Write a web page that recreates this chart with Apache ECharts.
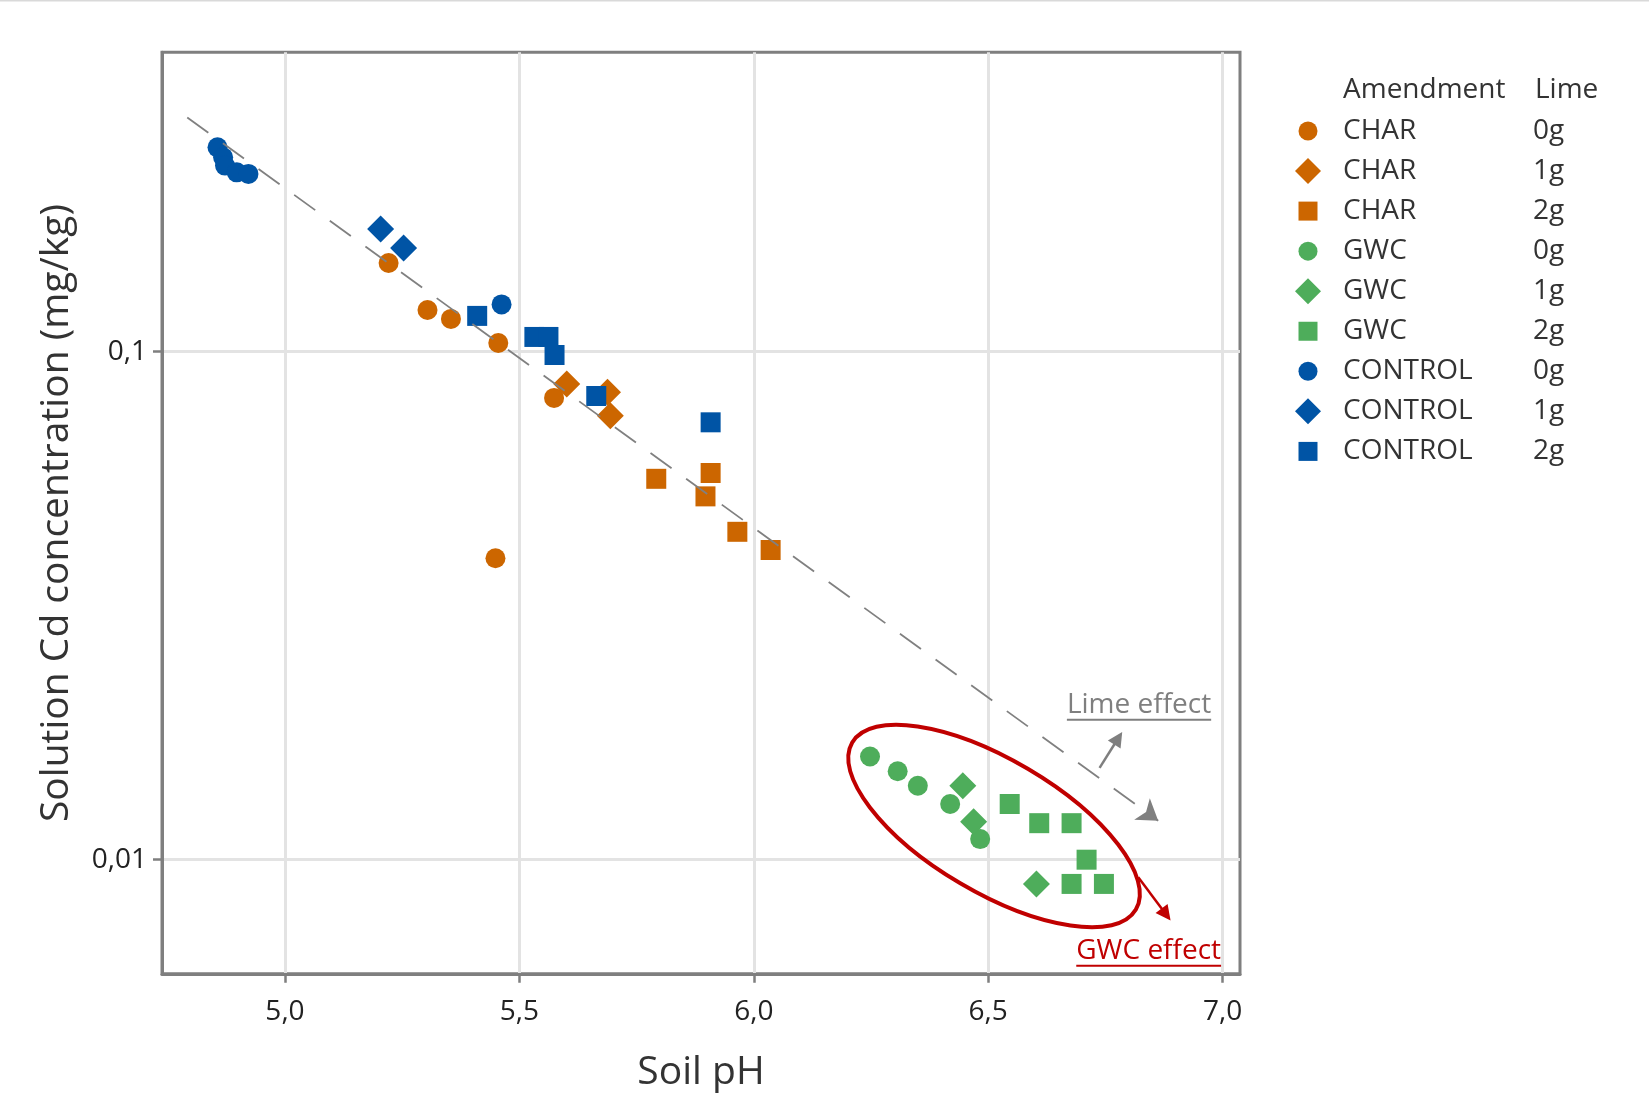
<!DOCTYPE html>
<html>
<head>
<meta charset="utf-8">
<script src="https://cdn.jsdelivr.net/npm/echarts@6/dist/echarts.min.js"></script>
<style>
  html, body { margin: 0; padding: 0; background: #ffffff; }
  #chart { width: 1649px; height: 1116px; }
</style>
</head>
<body>
<div id="chart"></div>
<script>
// Solution Cd concentration (mg/kg, log scale) against soil pH,
// by amendment (CHAR / GWC / CONTROL) and lime dose (0g / 1g / 2g).

const amendments = ['CHAR', 'GWC', 'CONTROL'];
const limeDoses = ['0g', '1g', '2g'];

const char0gPH = [5.221, 5.304, 5.354, 5.455, 5.574, 5.449];
const char0gCd = [0.1495, 0.1208, 0.116, 0.104, 0.0811, 0.0392];
const char1gPH = [5.601, 5.688, 5.694];
const char1gCd = [0.0864, 0.0832, 0.0748];
const char2gPH = [5.792, 5.897, 5.908, 5.965, 6.036];
const char2gCd = [0.0562, 0.0519, 0.0577, 0.0442, 0.0407];

const gwc0gPH = [6.248, 6.307, 6.350, 6.419, 6.483];
const gwc0gCd = [0.01596, 0.01493, 0.01398, 0.01287, 0.01098];
const gwc1gPH = [6.446, 6.469, 6.603];
const gwc1gCd = [0.01398, 0.01187, 0.00896];
const gwc2gPH = [6.546, 6.609, 6.678, 6.710, 6.678, 6.747];
const gwc2gCd = [0.01287, 0.0118, 0.0118, 0.0100, 0.00896, 0.00896];

const control0gPH = [4.856, 4.868, 4.872, 4.897, 4.922, 5.462];
const control0gCd = [0.2525, 0.2413, 0.2324, 0.2254, 0.2238, 0.1239];
const control1gPH = [5.204, 5.253];
const control1gCd = [0.1744, 0.160];
const control2gPH = [5.410, 5.532, 5.562, 5.575, 5.664, 5.908];
const control2gCd = [0.1176, 0.1069, 0.1069, 0.0985, 0.0818, 0.0726];

// axis ranges and tick values
const phRange = [4.7376, 7.0373];
const cdRange = [0.005962, 0.3884];
const phTicks = [5.0, 5.5, 6.0, 6.5, 7.0];
const cdTicks = [0.01, 0.1];

// overall trend (dashed) and the two effect arrows, in data units
const trendPH = [4.7915, 6.8628];
const trendCd = [0.2891, 0.01193];
const limeArrowPH = [6.7377, 6.7775];
const limeArrowCd = [0.01516, 0.01734];
const gwcArrowPH = [6.8203, 6.8796];
const gwcArrowCd = [0.009231, 0.0078];

// GWC group outline and annotation labels, in data units
const ringCenter = [6.5126, 0.01165];
const limeLabelAt = [6.668, 0.01929];
const gwcLabelAt = [6.688, 0.006326];

const FONT = 'Open Sans';
const amendmentColors = { CHAR: '#cc6600', GWC: '#4ead5b', CONTROL: '#0054a5' };
const doseSymbols = { '0g': 'circle', '1g': 'diamond', '2g': 'rect' };
const doseSizes = { '0g': 20, '1g': 27, '2g': 20 };
const legendIcons = {
  '0g': 'path://M0,0M26,26M3.5,13A9.5,9.5,0,1,1,22.5,13A9.5,9.5,0,1,1,3.5,13Z',
  '1g': 'path://M13,0L26,13L13,26L0,13Z',
  '2g': 'path://M0,0M26,26M3.5,3.5L22.5,3.5L22.5,22.5L3.5,22.5Z'
};

const groups = [
  ['CHAR', '0g', char0gPH, char0gCd],
  ['CHAR', '1g', char1gPH, char1gCd],
  ['CHAR', '2g', char2gPH, char2gCd],
  ['GWC', '0g', gwc0gPH, gwc0gCd],
  ['GWC', '1g', gwc1gPH, gwc1gCd],
  ['GWC', '2g', gwc2gPH, gwc2gCd],
  ['CONTROL', '0g', control0gPH, control0gCd],
  ['CONTROL', '1g', control1gPH, control1gCd],
  ['CONTROL', '2g', control2gPH, control2gCd]
];

const commaNum = v => String(Number(v.toPrecision(6))).replace('.', ',');

const pointSeries = groups.map(([amd, dose, ph, cd]) => ({
  type: 'scatter',
  name: amd + ' ' + dose,
  data: ph.map((x, i) => [x, cd[i]]),
  symbol: doseSymbols[dose],
  symbolSize: doseSizes[dose],
  itemStyle: { color: amendmentColors[amd], opacity: 1 },
  emphasis: { disabled: true },
  z: 2
}));

function arrowSeries(name, ph, cd, color, width, dash, head, headSize, z) {
  return {
    type: 'scatter', name: name, data: [], silent: true, z: z,
    markLine: {
      silent: true, animation: false,
      symbol: ['none', head], symbolSize: headSize,
      label: { show: false },
      emphasis: { disabled: true },
      lineStyle: { color: color, width: width, type: dash, opacity: 1 },
      data: [[
        { coord: [ph[0], cd[0]], symbol: 'none' },
        { coord: [ph[1], cd[1]], symbol: head, symbolSize: headSize }
      ]]
    }
  };
}

const chart = echarts.init(document.getElementById('chart'), null, { renderer: 'canvas' });

chart.setOption({
  animation: false,
  backgroundColor: '#ffffff',
  textStyle: { fontFamily: FONT },
  grid: {
    left: 162, right: 409, top: 52.3, bottom: 142.2,
    show: true, borderColor: '#7f7f7f', borderWidth: 3, backgroundColor: 'transparent'
  },
  xAxis: {
    type: 'value', min: phRange[0], max: phRange[1],
    axisLine: { show: true, lineStyle: { color: '#7f7f7f', width: 3 } },
    axisTick: { show: true, inside: false, length: 9, customValues: phTicks,
      lineStyle: { color: '#7f7f7f', width: 2.5 } },
    axisLabel: { customValues: phTicks, margin: 24, fontSize: 28, color: '#222',
      fontFamily: FONT, formatter: v => v.toFixed(1).replace('.', ',') },
    splitLine: { show: true, lineStyle: { color: '#e3e3e3', width: 3 } },
    name: 'Soil pH', nameLocation: 'middle', nameGap: 80,
    nameTextStyle: { fontSize: 39, color: '#333', fontFamily: FONT }
  },
  yAxis: {
    type: 'log', logBase: 10, min: cdRange[0], max: cdRange[1],
    axisLine: { show: true, lineStyle: { color: '#7f7f7f', width: 3 } },
    axisTick: { show: true, inside: false, length: 9, customValues: cdTicks,
      lineStyle: { color: '#7f7f7f', width: 2.5 } },
    axisLabel: { customValues: cdTicks, margin: 15, fontSize: 28, color: '#222',
      fontFamily: FONT, formatter: v => commaNum(v) },
    splitLine: { show: true, lineStyle: { color: '#e3e3e3', width: 3 } },
    name: 'Solution Cd concentration (mg/kg)', nameLocation: 'middle', nameGap: 86,
    nameTextStyle: { fontSize: 39, color: '#333', fontFamily: FONT }
  },
  legend: {
    orient: 'vertical', left: 1295, top: 117, padding: 0,
    itemGap: 12.05, itemWidth: 26, itemHeight: 26,
    selectedMode: false,
    data: groups.map(([amd, dose]) => ({ name: amd + ' ' + dose, icon: legendIcons[dose] })),
    formatter: name => {
      const parts = name.split(' ');
      return '{s| }{a|' + parts[0] + '}{b|' + parts[1] + '}';
    },
    textStyle: {
      fontFamily: FONT, fontSize: 28, color: '#333', lineHeight: 28,
      rich: {
        s: { width: 17, fontSize: 28, fontFamily: FONT, lineHeight: 28 },
        a: { width: 190, fontSize: 28, fontFamily: FONT, color: '#333', lineHeight: 28 },
        b: { fontSize: 28, fontFamily: FONT, color: '#333', lineHeight: 28 }
      }
    }
  },
  series: pointSeries.concat([
    arrowSeries('trend', trendPH, trendCd, '#808080', 1.8, [26, 18], 'arrow', 20, 4),
    arrowSeries('lime effect', limeArrowPH, limeArrowCd, '#7f7f7f', 2.5, 'solid', 'triangle', 15, 4),
    arrowSeries('gwc effect', gwcArrowPH, gwcArrowCd, '#c00000', 2.5, 'solid', 'triangle', 15, 4)
  ])
});

// Annotations placed from data coordinates
const toPx = p => chart.convertToPixel({ gridIndex: 0 }, p);
const measure = (text, size) => {
  const ctx = document.createElement('canvas').getContext('2d');
  ctx.font = size + 'px "' + FONT + '"';
  return ctx.measureText(text).width;
};

function underlinedLabel(text, at, color, size) {
  const p = toPx(at);
  const w = measure(text, size);
  return [
    { type: 'text', x: p[0], y: p[1] - size * 0.33, z: 20,
      style: { text: text, fontSize: size, fontFamily: FONT, fill: color, verticalAlign: 'middle', align: 'left' } },
    { type: 'line', z: 20,
      shape: { x1: p[0], y1: p[1] + 5, x2: p[0] + w, y2: p[1] + 5 },
      style: { stroke: color, lineWidth: 2 } }
  ];
}

const rc = toPx(ringCenter);
chart.setOption({
  graphic: [
    { type: 'rect', x: 0, y: 0, shape: { width: 1649, height: 1.5 }, style: { fill: '#d9d9d9' } },
    { type: 'text', x: 1343, y: 90, style: { text: 'Amendment', fontSize: 28, fontFamily: FONT, fill: '#333', verticalAlign: 'middle' } },
    { type: 'text', x: 1535, y: 90, style: { text: 'Lime', fontSize: 28, fontFamily: FONT, fill: '#333', verticalAlign: 'middle' } },
    { type: 'ellipse', x: rc[0], y: rc[1], rotation: -30.5 * Math.PI / 180, z: 15,
      shape: { cx: 0, cy: 0, rx: 164.6, ry: 66.5 },
      style: { fill: 'none', stroke: '#c00000', lineWidth: 4 } }
  ].concat(
    underlinedLabel('Lime effect', limeLabelAt, '#7f7f7f', 28),
    underlinedLabel('GWC effect', gwcLabelAt, '#c00000', 28)
  )
});
</script>
</body>
</html>
